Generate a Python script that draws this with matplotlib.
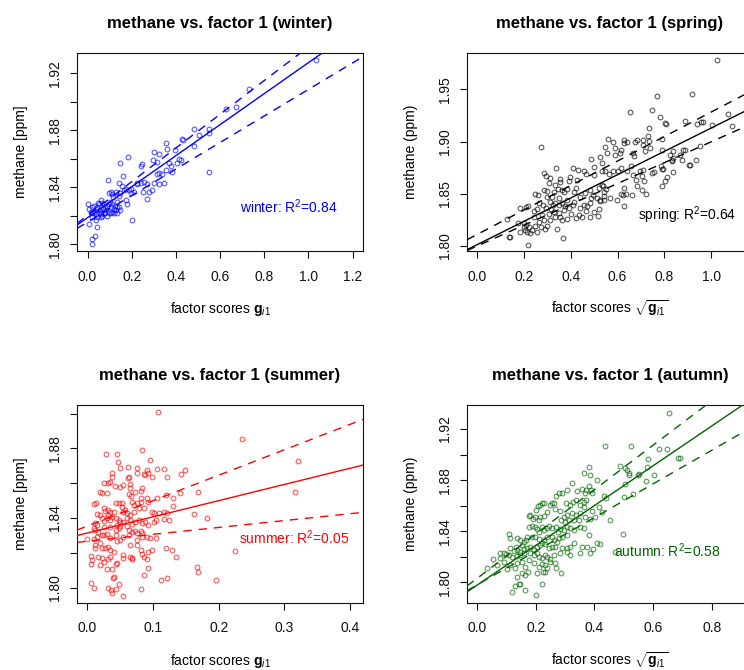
import matplotlib
matplotlib.use("Agg")
import matplotlib.pyplot as plt
from matplotlib.ticker import MultipleLocator, FixedLocator

plt.rcParams['font.family'] = ['Liberation Sans', 'DejaVu Sans']
plt.rcParams['mathtext.fontset'] = 'custom'
plt.rcParams['mathtext.rm'] = 'Liberation Sans'
plt.rcParams['mathtext.it'] = 'Liberation Sans:italic'
plt.rcParams['mathtext.bf'] = 'Liberation Sans:bold'

# ---- data: (factor score, methane ppm) ----
winter_pts = [
    (0.000, 1.828), (0.008, 1.825), (0.021, 1.826), (0.029, 1.827), (0.036, 1.825), (0.044, 1.826),
    (0.051, 1.828), (0.062, 1.831), (0.066, 1.829), (0.074, 1.828), (0.081, 1.826), (0.089, 1.827),
    (0.097, 1.828), (0.104, 1.826), (0.112, 1.828), (0.119, 1.825), (0.127, 1.824), (0.134, 1.826),
    (0.021, 1.822), (0.029, 1.823), (0.036, 1.821), (0.044, 1.819), (0.051, 1.822), (0.059, 1.823),
    (0.066, 1.820), (0.081, 1.822), (0.089, 1.820), (0.104, 1.822), (0.119, 1.822), (0.134, 1.822),
    (0.149, 1.824), (0.021, 1.819), (0.040, 1.817), (0.059, 1.819), (0.006, 1.814), (0.044, 1.812),
    (0.033, 1.806), (0.021, 1.804), (0.021, 1.800), (0.202, 1.817), (0.179, 1.828), (0.172, 1.831),
    (0.149, 1.836), (0.164, 1.838), (0.104, 1.837), (0.097, 1.836), (0.112, 1.835), (0.092, 1.845),
    (0.142, 1.843), (0.157, 1.841), (0.172, 1.839), (0.187, 1.838), (0.195, 1.839), (0.160, 1.848),
    (0.149, 1.857), (0.184, 1.861), (0.240, 1.855), (0.247, 1.856), (0.225, 1.843), (0.240, 1.843),
    (0.255, 1.844), (0.270, 1.842), (0.278, 1.837), (0.270, 1.832), (0.293, 1.838), (0.315, 1.849),
    (0.323, 1.850), (0.338, 1.849), (0.345, 1.843), (0.323, 1.842), (0.297, 1.859), (0.303, 1.865),
    (0.323, 1.863), (0.315, 1.858), (0.353, 1.871), (0.360, 1.867), (0.398, 1.866), (0.428, 1.874),
    (0.433, 1.873), (0.368, 1.857), (0.376, 1.855), (0.383, 1.851), (0.353, 1.852), (0.406, 1.857),
    (0.413, 1.860), (0.421, 1.859), (0.481, 1.881), (0.504, 1.877), (0.549, 1.851), (0.134, 1.830),
    (0.142, 1.834), (0.195, 1.836), (0.210, 1.837), (0.222, 1.842), (0.252, 1.837), (0.300, 1.843),
    (1.035, 1.929), (0.729, 1.909), (0.671, 1.896), (0.626, 1.895), (0.552, 1.881), (0.552, 1.878),
    (0.483, 1.869), (0.015, 1.823), (0.055, 1.824), (0.070, 1.825), (0.085, 1.824), (0.095, 1.822),
    (0.110, 1.823), (0.125, 1.827), (0.140, 1.826), (0.060, 1.821), (0.075, 1.822), (0.048, 1.829),
    (0.100, 1.830), (0.116, 1.833), (0.130, 1.837),
]

spring_pts = [
    (1.023, 1.978), (0.770, 1.944), (0.916, 1.946), (0.654, 1.9287), (0.745, 1.9306), (0.781, 1.9232),
    (0.803, 1.918), (0.805, 1.9168), (0.888, 1.920), (0.937, 1.917), (0.957, 1.919), (0.964, 1.919),
    (1.001, 1.916), (1.072, 1.926), (1.087, 1.915), (0.732, 1.9134), (0.790, 1.9025), (0.731, 1.9057),
    (0.710, 1.9012), (0.682, 1.9012), (0.735, 1.9003), (0.707, 1.897), (0.675, 1.8996), (0.639, 1.8993),
    (0.629, 1.9015), (0.629, 1.899), (0.558, 1.9025), (0.579, 1.8993), (0.546, 1.8948), (0.590, 1.8939),
    (0.615, 1.8923), (0.665, 1.8895), (0.669, 1.8863), (0.719, 1.8907), (0.737, 1.8939), (0.788, 1.8923),
    (0.824, 1.8875), (0.835, 1.8907), (0.831, 1.8827), (0.831, 1.8811), (0.866, 1.8875), (0.878, 1.8916),
    (0.888, 1.8916), (0.874, 1.8827), (0.909, 1.878), (0.934, 1.882), (0.951, 1.8955),
    (0.757, 1.8709), (0.745, 1.870), (0.788, 1.8738), (0.795, 1.874), (0.835, 1.8706), (0.809, 1.8658),
    (0.802, 1.8626), (0.784, 1.8763), (0.696, 1.8715), (0.703, 1.8667), (0.714, 1.862), (0.679, 1.8635),
    (0.667, 1.8683), (0.657, 1.8763), (0.641, 1.8715), (0.613, 1.8747), (0.603, 1.8722), (0.582, 1.8715),
    (0.565, 1.869), (0.546, 1.8715), (0.532, 1.8715), (0.710, 1.8731), (0.681, 1.8578), (0.703, 1.854),
    (0.660, 1.8492), (0.636, 1.8501), (0.613, 1.8501), (0.596, 1.8444), (0.622, 1.849), (0.568, 1.846),
    (0.542, 1.8476), (0.525, 1.8428), (0.628, 1.8556), (0.539, 1.8578), (0.551, 1.8546), (0.835, 1.8843),
    (0.612, 1.8891), (0.590, 1.8875), (0.555, 1.8891), (0.626, 1.838), (0.721, 1.8495), (0.789, 1.857),
    (0.906, 1.8776),
    (0.273, 1.8945), (0.128, 1.8262), (0.138, 1.809), (0.141, 1.8083), (0.219, 1.801), (0.368, 1.8073),
    (0.341, 1.816), (0.208, 1.837), (0.216, 1.838), (0.249, 1.8498), (0.259, 1.8492), (0.263, 1.8409),
    (0.256, 1.8351), (0.242, 1.8338), (0.287, 1.8702), (0.294, 1.8674), (0.313, 1.8648), (0.306, 1.860),
    (0.287, 1.8536), (0.299, 1.853), (0.327, 1.852), (0.338, 1.875), (0.356, 1.8642), (0.353, 1.8616),
    (0.334, 1.8584), (0.344, 1.8543), (0.363, 1.8536), (0.373, 1.852), (0.384, 1.8543), (0.391, 1.8623),
    (0.410, 1.8744), (0.430, 1.8728), (0.395, 1.8658), (0.427, 1.8632), (0.455, 1.8722), (0.467, 1.8686),
    (0.498, 1.868), (0.501, 1.876), (0.487, 1.883), (0.526, 1.8856), (0.533, 1.8798), (0.413, 1.852),
    (0.424, 1.8552), (0.441, 1.8466), (0.462, 1.8504), (0.481, 1.8536), (0.495, 1.8488), (0.512, 1.8457),
    (0.526, 1.8441), (0.541, 1.852), (0.519, 1.8552), (0.486, 1.8457), (0.455, 1.8393), (0.469, 1.8383),
    (0.441, 1.8361), (0.410, 1.8393), (0.391, 1.8361), (0.370, 1.8345), (0.401, 1.8307), (0.424, 1.8265),
    (0.384, 1.8255), (0.363, 1.8249), (0.334, 1.8281), (0.313, 1.8249), (0.299, 1.8192), (0.306, 1.8303),
    (0.277, 1.8297), (0.284, 1.8249), (0.263, 1.8233), (0.273, 1.8185), (0.249, 1.8192), (0.235, 1.8153),
    (0.228, 1.8121), (0.256, 1.8137), (0.213, 1.8137), (0.220, 1.8179), (0.202, 1.8185), (0.210, 1.8201),
    (0.242, 1.8281), (0.310, 1.8425), (0.324, 1.8393), (0.334, 1.8409), (0.348, 1.8393), (0.363, 1.8409),
    (0.377, 1.8383), (0.316, 1.8351), (0.330, 1.8329), (0.348, 1.8313), (0.356, 1.8281), (0.282, 1.8393),
    (0.296, 1.8361), (0.434, 1.8297), (0.448, 1.8281), (0.467, 1.8338), (0.484, 1.8281), (0.498, 1.8329),
    (0.519, 1.8351), (0.484, 1.8409), (0.320, 1.8473), (0.348, 1.8457), (0.384, 1.8441), (0.413, 1.8425),
    (0.515, 1.8287), (0.541, 1.8441), (0.533, 1.8584), (0.299, 1.8473), (0.185, 1.8361), (0.185, 1.8137),
    (0.206, 1.8153), (0.174, 1.8217), (0.200, 1.8224), (0.292, 1.816),
]

summer_pts = [
    (0.108, 1.9007), (0.083, 1.8788), (0.029, 1.8765), (0.045, 1.8765), (0.046, 1.8723), (0.095, 1.8731),
    (0.050, 1.8685), (0.062, 1.8691), (0.075, 1.8685), (0.075, 1.8660), (0.091, 1.8675), (0.092, 1.8656),
    (0.088, 1.8647), (0.086, 1.8651), (0.098, 1.8637), (0.106, 1.8679), (0.117, 1.8679), (0.122, 1.8637),
    (0.142, 1.8651), (0.149, 1.8675), (0.038, 1.8656), (0.037, 1.8633), (0.035, 1.8608), (0.025, 1.8599),
    (0.032, 1.8599), (0.042, 1.8586), (0.049, 1.8580), (0.055, 1.8589), (0.065, 1.8593), (0.063, 1.8637),
    (0.062, 1.8631), (0.065, 1.8570), (0.081, 1.8555), (0.083, 1.8570), (0.106, 1.8517), (0.119, 1.8532),
    (0.131, 1.8513), (0.141, 1.8542), (0.168, 1.8547), (0.020, 1.8547), (0.022, 1.8542), (0.030, 1.8542),
    (0.063, 1.8536), (0.066, 1.8528), (0.073, 1.8547), (0.081, 1.8513), (0.081, 1.8494), (0.068, 1.8494),
    (0.071, 1.8475), (0.076, 1.8484), (0.091, 1.8513), (0.093, 1.8494), (0.131, 1.8469), (0.010, 1.8478),
    (0.013, 1.8484), (0.026, 1.8459), (0.027, 1.8440), (0.031, 1.8446), (0.035, 1.8436), (0.032, 1.8417),
    (0.040, 1.8436), (0.043, 1.8484), (0.048, 1.8484), (0.053, 1.8484), (0.055, 1.8436), (0.053, 1.8465),
    (0.058, 1.8446), (0.060, 1.8427), (0.065, 1.8417), (0.071, 1.8436), (0.078, 1.8459), (0.086, 1.8459),
    (0.098, 1.8436), (0.101, 1.8427), (0.109, 1.8427), (0.116, 1.8436), (0.122, 1.8427), (0.163, 1.8421),
    (0.182, 1.8402), (0.015, 1.8421), (0.020, 1.8417), (0.022, 1.8398), (0.025, 1.8383), (0.030, 1.8398),
    (0.035, 1.8388), (0.038, 1.8408), (0.043, 1.8398), (0.048, 1.8388), (0.050, 1.8379), (0.055, 1.8379),
    (0.060, 1.8402), (0.065, 1.8388), (0.068, 1.8364), (0.073, 1.8379), (0.078, 1.8388), (0.083, 1.8369),
    (0.088, 1.8379), (0.093, 1.8360), (0.101, 1.8379), (0.104, 1.8388), (0.116, 1.8392), (0.124, 1.8388),
    (0.012, 1.8369), (0.015, 1.8360), (0.010, 1.8341), (0.012, 1.8331), (0.017, 1.8321), (0.025, 1.8350),
    (0.035, 1.8350), (0.043, 1.8331), (0.045, 1.8360), (0.048, 1.8341), (0.050, 1.8356), (0.060, 1.8356),
    (0.064, 1.8331), (0.068, 1.8321), (0.073, 1.8325), (0.076, 1.8312), (0.081, 1.8325), (0.083, 1.8312),
    (0.091, 1.8293), (0.096, 1.8283), (0.104, 1.8287), (0.000, 1.8277), (0.010, 1.8279), (0.015, 1.8293),
    (0.022, 1.8302), (0.025, 1.8302), (0.030, 1.8306), (0.035, 1.8283), (0.043, 1.8302), (0.045, 1.8268),
    (0.050, 1.8274), (0.055, 1.8293), (0.063, 1.8302), (0.065, 1.8245), (0.076, 1.8274), (0.083, 1.8293),
    (0.012, 1.8245), (0.020, 1.8254), (0.022, 1.8226), (0.027, 1.8226), (0.032, 1.8235), (0.035, 1.8216),
    (0.040, 1.8207), (0.055, 1.8188), (0.065, 1.8178), (0.068, 1.8168), (0.076, 1.8245), (0.081, 1.8216),
    (0.083, 1.8191), (0.086, 1.8178), (0.091, 1.8165), (0.093, 1.8207), (0.098, 1.8216), (0.119, 1.8226),
    (0.129, 1.8216), (0.135, 1.8178), (0.005, 1.8184), (0.007, 1.8157), (0.005, 1.8134), (0.012, 1.8226),
    (0.017, 1.8178), (0.022, 1.8172), (0.032, 1.8165), (0.035, 1.8178), (0.025, 1.8149), (0.020, 1.8130),
    (0.030, 1.8105), (0.038, 1.8107), (0.040, 1.8063), (0.039, 1.8054), (0.043, 1.8134), (0.045, 1.8144),
    (0.055, 1.8172), (0.068, 1.8163), (0.086, 1.8073), (0.092, 1.8111), (0.112, 1.8044), (0.121, 1.8057),
    (0.167, 1.8121), (0.168, 1.8092), (0.196, 1.8044), (0.005, 1.8029), (0.010, 1.7996), (0.032, 1.8000),
    (0.036, 1.7987), (0.037, 1.7967), (0.044, 1.7990), (0.048, 1.8021), (0.054, 1.7954), (0.081, 1.7990),
    (0.235, 1.8852), (0.320, 1.8727), (0.316, 1.8551), (0.225, 1.8212),
]

autumn_pts = [
    (0.278, 1.8702), (0.270, 1.8676), (0.306, 1.8723), (0.289, 1.8697), (0.340, 1.8718), (0.357, 1.8728),
    (0.372, 1.8723), (0.388, 1.8723), (0.391, 1.8702), (0.369, 1.8697), (0.435, 1.9068), (0.382, 1.8901),
    (0.363, 1.8854), (0.386, 1.8841), (0.325, 1.8780), (0.409, 1.8801), (0.380, 1.8757),
    (0.263, 1.8619), (0.255, 1.8624), (0.250, 1.8606), (0.229, 1.8619), (0.221, 1.8619), (0.213, 1.8606),
    (0.207, 1.8598), (0.202, 1.8566), (0.182, 1.8527), (0.176, 1.8519), (0.191, 1.8499), (0.199, 1.8509),
    (0.210, 1.8488), (0.216, 1.8509), (0.227, 1.8519), (0.238, 1.8553), (0.267, 1.8572), (0.284, 1.8561),
    (0.303, 1.8619), (0.318, 1.8606), (0.327, 1.8632), (0.338, 1.8645), (0.352, 1.8606), (0.363, 1.8632),
    (0.372, 1.8645), (0.365, 1.8587), (0.352, 1.8540), (0.338, 1.8527), (0.323, 1.8540), (0.306, 1.8527),
    (0.295, 1.8509), (0.287, 1.8488), (0.301, 1.8475), (0.312, 1.8488), (0.329, 1.8488), (0.346, 1.8488),
    (0.369, 1.8514), (0.384, 1.8499), (0.403, 1.8509), (0.426, 1.8553), (0.452, 1.8488), (0.433, 1.8676),
    (0.440, 1.8658), (0.414, 1.8593), (0.391, 1.8559),
    (0.176, 1.8436), (0.187, 1.8441), (0.199, 1.8431), (0.204, 1.8415), (0.210, 1.8397), (0.221, 1.8431),
    (0.229, 1.8410), (0.238, 1.8423), (0.244, 1.8441), (0.255, 1.8423), (0.270, 1.8436), (0.275, 1.8397),
    (0.281, 1.8415), (0.295, 1.8410), (0.306, 1.8436), (0.318, 1.8423), (0.329, 1.8410), (0.350, 1.8436),
    (0.365, 1.8423), (0.380, 1.8371), (0.306, 1.8371), (0.289, 1.8358), (0.278, 1.8345), (0.263, 1.8332),
    (0.255, 1.8352), (0.238, 1.8358), (0.227, 1.8332), (0.221, 1.8305), (0.210, 1.8337), (0.199, 1.8358),
    (0.187, 1.8358), (0.170, 1.8358), (0.168, 1.8332), (0.161, 1.8318), (0.153, 1.8292), (0.148, 1.8332),
    (0.136, 1.8345), (0.134, 1.8279), (0.111, 1.8345), (0.108, 1.8378),
    (0.113, 1.8266), (0.125, 1.8248), (0.136, 1.8253), (0.148, 1.8240), (0.159, 1.8258), (0.170, 1.8266),
    (0.182, 1.8279), (0.193, 1.8253), (0.204, 1.8274), (0.216, 1.8292), (0.233, 1.8300), (0.244, 1.8266),
    (0.255, 1.8274), (0.267, 1.8279), (0.272, 1.8318), (0.289, 1.8266), (0.306, 1.8266), (0.318, 1.8279),
    (0.329, 1.8305), (0.357, 1.8279), (0.374, 1.8279), (0.395, 1.8258), (0.409, 1.8311), (0.418, 1.8300),
    (0.471, 1.8240),
    (0.079, 1.8227), (0.091, 1.8232), (0.100, 1.8222), (0.108, 1.8214), (0.119, 1.8201), (0.136, 1.8206),
    (0.148, 1.8214), (0.161, 1.8227), (0.182, 1.8227), (0.193, 1.8214), (0.204, 1.8227), (0.210, 1.8201),
    (0.221, 1.8188), (0.233, 1.8214), (0.238, 1.8196), (0.250, 1.8180), (0.263, 1.8214), (0.281, 1.8227),
    (0.306, 1.8240), (0.318, 1.8214), (0.352, 1.8227), (0.384, 1.8227),
    (0.054, 1.8180), (0.079, 1.8188), (0.091, 1.8162), (0.113, 1.8136), (0.136, 1.8154), (0.153, 1.8162),
    (0.176, 1.8175), (0.193, 1.8149), (0.210, 1.8123), (0.221, 1.8144), (0.233, 1.8136), (0.238, 1.8110),
    (0.225, 1.8084), (0.267, 1.8149), (0.270, 1.8110), (0.250, 1.8162),
    (0.034, 1.8110), (0.068, 1.8136), (0.102, 1.8102), (0.130, 1.8110), (0.165, 1.8123), (0.172, 1.8084),
    (0.204, 1.8076), (0.233, 1.8084), (0.286, 1.8070), (0.136, 1.8044), (0.153, 1.8070), (0.165, 1.8057),
    (0.130, 1.7974), (0.142, 1.7987), (0.148, 1.7987), (0.165, 1.7940), (0.119, 1.7927), (0.221, 1.7987),
    (0.201, 1.7901),
    (0.652, 1.9329), (0.525, 1.9068), (0.618, 1.9041), (0.647, 1.9041), (0.684, 1.8976), (0.692, 1.8971),
    (0.581, 1.8963), (0.488, 1.8911), (0.505, 1.8893), (0.511, 1.8880), (0.516, 1.8854), (0.519, 1.8840),
    (0.547, 1.8840), (0.553, 1.8846), (0.575, 1.8794), (0.604, 1.8840), (0.579, 1.8906), (0.505, 1.8767),
    (0.530, 1.8689), (0.499, 1.8666), (0.496, 1.8376),
]

# fitted line and the two dashed bounds: (intercept, slope)
winter_fit = [(1.8187, 0.1087), (1.8203, 0.1182), (1.8156, 0.0930)]
spring_fit = [(1.8012, 0.1118), (1.8110, 0.1173), (1.7999, 0.0999)]
summer_fit = [(1.8314, 0.0930), (1.8354, 0.1460), (1.8267, 0.0395)]
autumn_fit = [(1.7977, 0.1560), (1.8030, 0.1740), (1.7979, 0.1320)]

r2 = {'winter': 0.84, 'spring': 0.64, 'summer': 0.05, 'autumn': 0.58}

fig = plt.figure(figsize=(7.44, 6.70), dpi=100)
W, H = 744.0, 670.0


def panel(box, pts, fit, season, color, xlim, ylim, xstep, ymajor, ylab_step, ylabel, sqrt_label, txt_pos):
    ax = fig.add_axes([box[0] / W, 1 - box[3] / H, (box[2] - box[0]) / W, (box[3] - box[1]) / H])
    xs = [p[0] for p in pts]
    ys = [p[1] for p in pts]
    ax.plot(xs, ys, 'o', ms=3.4, mfc='none', mec=color, mew=0.8, alpha=0.65, zorder=2)
    b, m = fit[0]
    ax.axline((0, b), slope=m, color=color, lw=1.0, zorder=3)
    for b, m in fit[1:]:
        ax.axline((0, b), slope=m, color=color, lw=1.0, ls=(0, (6, 5)), zorder=3)
    ax.set_xlim(*xlim)
    ax.set_ylim(*ylim)
    ax.xaxis.set_major_locator(MultipleLocator(xstep))
    ticks = [round(ymajor[0] + i * ymajor[2], 3) for i in range(int(round((ymajor[1] - ymajor[0]) / ymajor[2])) + 1)]
    ax.yaxis.set_major_locator(FixedLocator(ticks))
    ax.set_yticklabels(['%.2f' % t if round((t - ymajor[0]) / ylab_step, 6) % 1 == 0 else '' for t in ticks])
    ax.xaxis.set_major_formatter(matplotlib.ticker.FormatStrFormatter('%.1f'))
    ax.tick_params(direction='out', length=5, width=0.8, labelsize=10, colors='#111111')
    ax.tick_params(axis='x', pad=8.5)
    ax.tick_params(axis='y', pad=5.5)
    for lab in ax.get_yticklabels():
        lab.set_rotation(90)
        lab.set_va('center')
    for s in ax.spines.values():
        s.set_linewidth(0.8)
        s.set_color('#111111')
    ax.set_title('methane vs. factor 1 (%s)' % season, fontsize=12, fontweight='bold', pad=18)
    if sqrt_label:
        xl = r'factor scores $\sqrt{\mathbf{g}_{\mathit{i}1}}$'
    else:
        xl = r'factor scores $\mathbf{g}_{\mathit{i}1}$'
    ax.set_xlabel(xl, fontsize=10)
    ax.xaxis.label.set_va('baseline')
    ax.xaxis.set_label_coords(0.5, -62.0 / (box[3] - box[1]))
    ax.set_ylabel(ylabel, fontsize=10)
    ax.yaxis.label.set_va('center')
    ax.yaxis.set_label_coords(-56.0 / (box[2] - box[0]), 0.5)
    ax.text(txt_pos[0], txt_pos[1], '%s: R$^2$=%.2f' % (season, r2[season]), color=color,
            fontsize=10, ha='center', va='center')
    return ax


panel((77, 53, 363, 251), winter_pts, winter_fit, 'winter', 'blue',
      (-0.048, 1.2475), (1.7953, 1.9342), 0.2, (1.80, 1.92, 0.02), 0.04, 'methane [ppm]', False, (0.913, 1.8264))
panel((467, 53, 753, 251), spring_pts, spring_fit, 'spring', 'black',
      (-0.0427, 1.178), (1.7952, 1.9848), 0.2, (1.80, 1.95, 0.05), 0.05, 'methane (ppm)', True, (0.895, 1.8297))
panel((77, 405, 363, 602.7), summer_pts, summer_fit, 'summer', 'red',
      (-0.0157, 0.4196), (1.7914, 1.9049), 0.1, (1.80, 1.90, 0.02), 0.04, 'methane [ppm]', False, (0.315, 1.8289))
panel((467, 405, 753, 602.7), autumn_pts, autumn_fit, 'autumn', 'darkgreen',
      (-0.034, 0.9396), (1.784, 1.9388), 0.2, (1.80, 1.92, 0.02), 0.04, 'methane (ppm)', True, (0.647, 1.8247))

fig.savefig('out.png', dpi=100)
